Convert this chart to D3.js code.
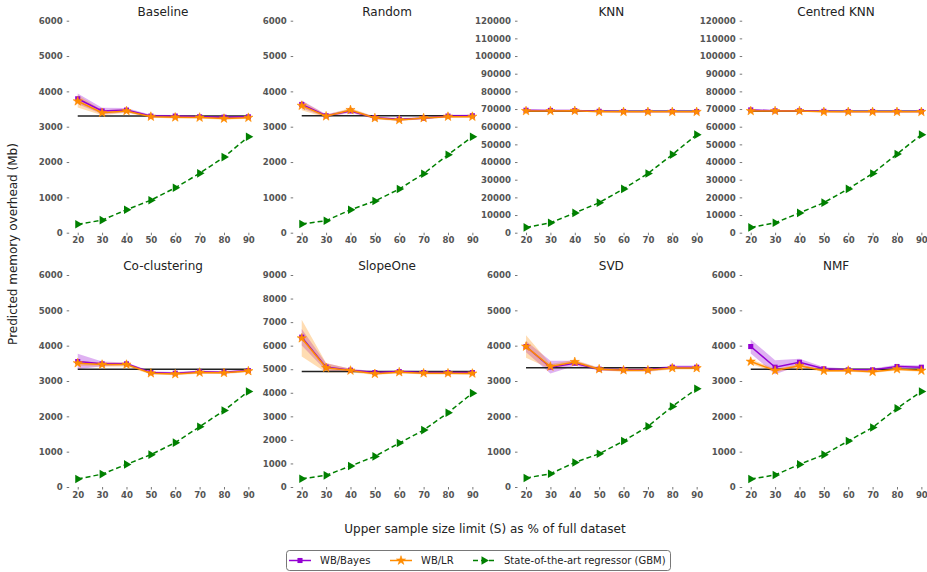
<!DOCTYPE html>
<html>
<head>
<meta charset="utf-8">
<script src="https://cdn.jsdelivr.net/npm/d3@7"></script>
<style>
  body { margin: 0; background: #fff; }
  svg { font-family: "DejaVu Sans", sans-serif; }
</style>
</head>
<body>
<div id="chart"></div>
<script>
// sample size limits (% of full dataset)
const sampleSizes = [20, 30, 40, 50, 60, 70, 80, 90];

const panelTitles = ['Baseline', 'Random', 'KNN', 'Centred KNN',
                     'Co-clustering', 'SlopeOne', 'SVD', 'NMF'];

const yMax  = [6000, 6000, 120000, 120000, 6000, 9000, 6000, 6000];
const yStep = [1000, 1000, 10000, 10000, 1000, 1000, 1000, 1000];

// measured memory overhead (black reference line)
const actualMemory = [3300, 3310, 68800, 68800, 3335, 4900, 3372, 3335];

// WB/Bayes predictions and spread
const bayesMean = [
    [3790, 3445, 3470, 3300, 3300, 3280, 3270, 3280],
    [3630, 3310, 3445, 3255, 3210, 3240, 3300, 3310],
    [69300, 69200, 69100, 68700, 68600, 68600, 68600, 68600],
    [69500, 69000, 69000, 68700, 68600, 68600, 68600, 68600],
    [3550, 3485, 3485, 3240, 3220, 3260, 3250, 3295],
    [6360, 5090, 4960, 4860, 4900, 4860, 4860, 4860],
    [3975, 3390, 3505, 3335, 3315, 3315, 3390, 3390],
    [3975, 3390, 3530, 3345, 3315, 3315, 3410, 3390]
];
const bayesSd = [
    [150, 90, 60, 35, 30, 25, 25, 25],
    [110, 45, 50, 35, 35, 30, 35, 35],
    [400, 300, 300, 250, 250, 250, 250, 250],
    [500, 300, 300, 250, 250, 250, 250, 250],
    [220, 70, 40, 35, 35, 35, 35, 35],
    [350, 160, 60, 50, 50, 50, 50, 50],
    [160, 180, 70, 40, 40, 40, 50, 50],
    [200, 200, 100, 50, 40, 40, 50, 50]
];

// WB/LR predictions and spread
const lrMean = [
    [3720, 3395, 3445, 3285, 3265, 3260, 3230, 3255],
    [3595, 3295, 3475, 3245, 3190, 3245, 3285, 3285],
    [68900, 68900, 69000, 68400, 68400, 68400, 68400, 68400],
    [68900, 68900, 68900, 68400, 68400, 68400, 68400, 68400],
    [3505, 3465, 3465, 3220, 3195, 3240, 3230, 3280],
    [6315, 5060, 4945, 4805, 4875, 4830, 4830, 4820],
    [3975, 3410, 3540, 3335, 3305, 3305, 3365, 3365],
    [3550, 3295, 3430, 3290, 3295, 3260, 3335, 3295]
];
const lrSd = [
    [180, 70, 50, 35, 35, 30, 30, 30],
    [130, 45, 55, 35, 35, 30, 30, 30],
    [400, 300, 300, 250, 250, 250, 250, 250],
    [400, 300, 300, 250, 250, 250, 250, 250],
    [70, 60, 55, 35, 35, 35, 35, 35],
    [780, 200, 70, 50, 50, 50, 50, 50],
    [320, 70, 60, 40, 40, 40, 40, 40],
    [70, 50, 45, 35, 35, 35, 35, 35]
];

// State-of-the-art regressor (GBM)
const gbmPred = [
    [237, 355, 650, 920, 1270, 1680, 2140, 2715],
    [245, 340, 650, 895, 1235, 1670, 2205, 2715],
    [3000, 5600, 11200, 17000, 24800, 33500, 44200, 55500],
    [3000, 5600, 11200, 17000, 24800, 33500, 44500, 55500],
    [225, 365, 640, 915, 1255, 1705, 2165, 2705],
    [350, 495, 890, 1300, 1865, 2415, 3150, 3985],
    [255, 375, 695, 940, 1300, 1715, 2280, 2780],
    [225, 340, 640, 915, 1300, 1685, 2225, 2705]
];

const legendLabels = ['WB/Bayes', 'WB/LR', 'State-of-the-art regressor (GBM)'];

const bayesColor = '#9400d3', lrColor = '#ff8c00', gbmColor = '#008000';

const W = 927, H = 572;
const colX = [69.2, 293.2, 517.5, 742.2];
const rowY = [20.7, 275];
const pw = 187.7, ph = 212;

const svg = d3.select('#chart').append('svg')
    .attr('width', W).attr('height', H);

const star = d3.symbol().type(d3.symbolStar).size(26);
const square = d3.symbol().type(d3.symbolSquare).size(26);
const tri = d3.symbol().type(d3.symbolTriangle).size(32);

function drawMarker(g, type, color, x, y) {
    if (type === 'square') {
        g.append('path').attr('d', square()).attr('transform', `translate(${x},${y})`)
            .attr('fill', color);
    } else if (type === 'star') {
        g.append('path').attr('d', star()).attr('transform', `translate(${x},${y})`)
            .attr('fill', color).attr('stroke', color).attr('stroke-width', 0.6);
    } else {
        // right-pointing triangle
        g.append('path').attr('d', tri()).attr('transform', `translate(${x},${y}) rotate(90)`)
            .attr('fill', color);
    }
}

panelTitles.forEach((title, i) => {
    const r = Math.floor(i / 4), c = i % 4;
    const g = svg.append('g').attr('transform', `translate(${colX[c]},${rowY[r]})`);

    const x = d3.scaleLinear().domain([16.5, 93.5]).range([0, pw]);
    const y = d3.scaleLinear().domain([0, yMax[i]]).range([ph, 0]);

    // axes
    const yAxis = d3.axisLeft(y).tickValues(d3.range(0, yMax[i] + 1, yStep[i]))
        .tickFormat(d3.format('d')).tickSize(2.5).tickPadding(4);
    const xAxis = d3.axisBottom(x).tickValues(sampleSizes).tickSize(2.5).tickPadding(2);

    g.append('g').call(yAxis).call(s => s.select('.domain').remove());
    g.append('g').attr('transform', `translate(0,${ph})`).call(xAxis)
        .call(s => s.select('.domain').remove());
    g.selectAll('.tick line').attr('stroke', '#777');
    g.selectAll('.tick text').attr('fill', '#555').attr('font-size', 8.6)
        .attr('font-weight', 'bold').attr('font-family', 'DejaVu Sans');

    g.append('text').attr('x', pw / 2).attr('y', -5).attr('text-anchor', 'middle')
        .attr('font-size', 12).attr('fill', '#222').text(title);

    const pts = sampleSizes.map((s, j) => ({
        s, b: bayesMean[i][j], bs: bayesSd[i][j], l: lrMean[i][j], ls: lrSd[i][j], g: gbmPred[i][j]
    }));

    // bands
    const area = (m, sd) => d3.area().x(d => x(d.s)).y0(d => y(d[m] - d[sd])).y1(d => y(d[m] + d[sd]));
    g.append('path').datum(pts).attr('d', area('b', 'bs')).attr('fill', bayesColor).attr('opacity', 0.3);
    g.append('path').datum(pts).attr('d', area('l', 'ls')).attr('fill', lrColor).attr('opacity', 0.3);

    // actual memory line
    g.append('line').attr('x1', x(20)).attr('x2', x(90))
        .attr('y1', y(actualMemory[i])).attr('y2', y(actualMemory[i]))
        .attr('stroke', '#222').attr('stroke-width', 1.5);

    const line = key => d3.line().x(d => x(d.s)).y(d => y(d[key]));

    g.append('path').datum(pts).attr('d', line('b')).attr('fill', 'none')
        .attr('stroke', bayesColor).attr('stroke-width', 1.5);
    pts.forEach(d => drawMarker(g, 'square', bayesColor, x(d.s), y(d.b)));

    g.append('path').datum(pts).attr('d', line('l')).attr('fill', 'none')
        .attr('stroke', lrColor).attr('stroke-width', 1.5);
    pts.forEach(d => drawMarker(g, 'star', lrColor, x(d.s), y(d.l)));

    g.append('path').datum(pts).attr('d', line('g')).attr('fill', 'none')
        .attr('stroke', gbmColor).attr('stroke-width', 1.5).attr('stroke-dasharray', '5,3');
    pts.forEach(d => drawMarker(g, 'tri', gbmColor, x(d.s), y(d.g)));
});

// axis labels
svg.append('text').attr('transform', 'translate(17,244) rotate(-90)')
    .attr('text-anchor', 'middle').attr('font-size', 12).attr('fill', '#222')
    .text('Predicted memory overhead (Mb)');
svg.append('text').attr('x', 485).attr('y', 533).attr('text-anchor', 'middle')
    .attr('font-size', 12).attr('fill', '#222')
    .text('Upper sample size limit (S) as % of full dataset');

// legend
const lg = svg.append('g');
lg.append('rect').attr('x', 286.5).attr('y', 550.5).attr('width', 384).attr('height', 20)
    .attr('rx', 3).attr('fill', '#fff').attr('stroke', '#555').attr('stroke-width', 0.8);
const legendItems = [
    {x: 289, color: bayesColor, type: 'square', dash: null},
    {x: 390, color: lrColor, type: 'star', dash: null},
    {x: 473, color: gbmColor, type: 'tri', dash: '5,3'}
];
legendItems.forEach((it, k) => {
    lg.append('line').attr('x1', it.x).attr('x2', it.x + 22).attr('y1', 560.5).attr('y2', 560.5)
        .attr('stroke', it.color).attr('stroke-width', 1.5).attr('stroke-dasharray', it.dash);
    drawMarker(lg, it.type, it.color, it.x + 11, 560.5);
    lg.append('text').attr('x', it.x + 31).attr('y', 564).attr('font-size', 10)
        .attr('fill', '#222').text(legendLabels[k]);
});
</script>
</body>
</html>
